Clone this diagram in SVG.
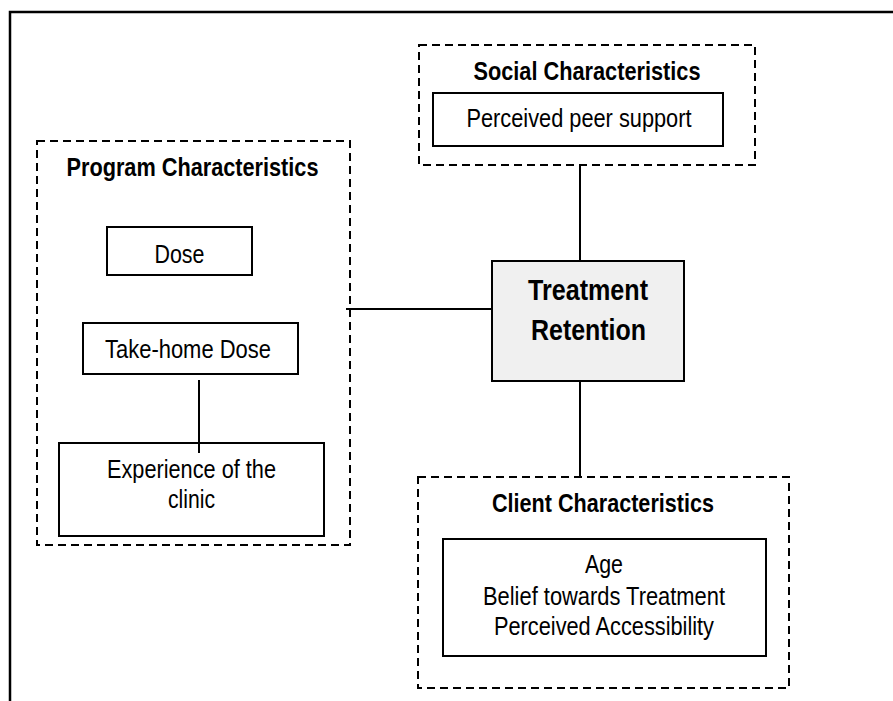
<svg xmlns="http://www.w3.org/2000/svg" width="893" height="701" viewBox="0 0 893 701">
<style>
text{font-family:"Liberation Sans",Arial,sans-serif;fill:#000;text-anchor:middle}
.t{font-size:25px}
.h{font-size:25px;font-weight:bold}
.b{font-size:29px;font-weight:bold}
.box{fill:#fff;stroke:#000;stroke-width:2}
.grp{fill:none;stroke:#000;stroke-width:2;stroke-dasharray:8 5}
.c{stroke:#000;stroke-width:2;fill:none}
</style>
<rect width="893" height="701" fill="#fff"/>
<path d="M10,701 L10,12 L893,12" fill="none" stroke="#000" stroke-width="2.5"/>
<g id="connectors">
<line class="c" x1="580" y1="165" x2="580" y2="261"/>
<line class="c" x1="580" y1="381" x2="580" y2="477"/>
<line class="c" x1="346" y1="309" x2="492" y2="309"/>
<line class="c" x1="199" y1="380" x2="199" y2="453"/>
</g>
<g id="social">
<rect class="grp" x="419" y="45" width="336" height="120"/>
<text class="h" x="587" y="80" textLength="227" lengthAdjust="spacingAndGlyphs">Social Characteristics</text>
</g>
<g id="peer">
<rect class="box" x="433" y="93" width="290" height="53"/>
<text class="t" x="579" y="127" textLength="225" lengthAdjust="spacingAndGlyphs">Perceived peer support</text>
</g>
<g id="program">
<rect class="grp" x="37" y="141" width="313" height="404"/>
<text class="h" x="192.5" y="176" textLength="252" lengthAdjust="spacingAndGlyphs">Program Characteristics</text>
</g>
<g id="dose">
<rect class="box" x="107" y="227" width="145" height="48"/>
<text class="t" x="179.5" y="263" textLength="50" lengthAdjust="spacingAndGlyphs">Dose</text>
</g>
<g id="takehome">
<rect class="box" x="83" y="323" width="215" height="51"/>
<text class="t" x="188" y="358" textLength="166" lengthAdjust="spacingAndGlyphs">Take-home Dose</text>
</g>
<g id="experience">
<rect class="box" x="59" y="443" width="265" height="93" fill-opacity="0"/>
<text class="t" x="191.5" y="478" textLength="169" lengthAdjust="spacingAndGlyphs">Experience of the</text>
<text class="t" x="191.5" y="508" textLength="47" lengthAdjust="spacingAndGlyphs">clinic</text>
</g>
<g id="treatment">
<rect x="492" y="261" width="192" height="120" fill="#f0f0f0" stroke="#000" stroke-width="2"/>
<text class="b" x="588" y="300" textLength="120" lengthAdjust="spacingAndGlyphs">Treatment</text>
<text class="b" x="588.5" y="340" textLength="115" lengthAdjust="spacingAndGlyphs">Retention</text>
</g>
<g id="client">
<rect class="grp" x="418" y="477" width="371" height="211"/>
<text class="h" x="603" y="512" textLength="222" lengthAdjust="spacingAndGlyphs">Client Characteristics</text>
</g>
<g id="clientitems">
<rect class="box" x="443" y="539" width="323" height="117"/>
<text class="t" x="604" y="573" textLength="38" lengthAdjust="spacingAndGlyphs">Age</text>
<text class="t" x="604" y="605" textLength="242" lengthAdjust="spacingAndGlyphs">Belief towards Treatment</text>
<text class="t" x="604" y="635" textLength="220" lengthAdjust="spacingAndGlyphs">Perceived Accessibility</text>
</g>
</svg>
